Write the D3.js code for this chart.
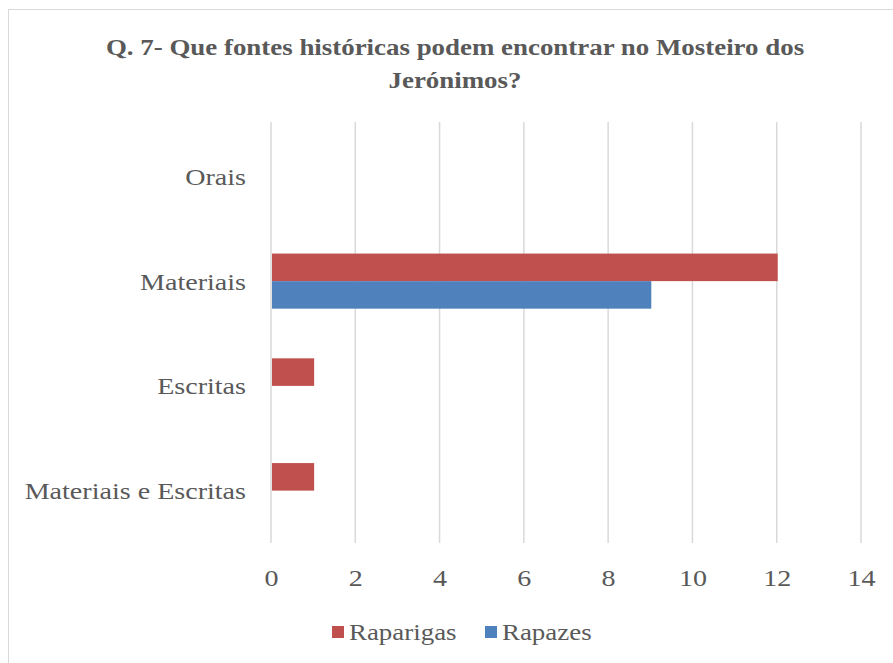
<!DOCTYPE html>
<html>
<head>
<meta charset="utf-8">
<script src="https://cdn.jsdelivr.net/npm/d3@7"></script>
<style>
  body { margin: 0; background: #fff; }
  svg { display: block; }
  text { font-family: "Liberation Serif", "Times New Roman", serif; fill: #595959; }
</style>
</head>
<body>
<svg width="893" height="663"></svg>
<script>
var categories = ["Orais", "Materiais", "Escritas", "Materiais e Escritas"];
var seriesNames = ["Raparigas", "Rapazes"];
var raparigas = [0, 12, 1, 1];
var rapazes = [0, 9, 0, 0];
var xTicks = [0, 2, 4, 6, 8, 10, 12, 14];
var colors = ["#C0504D", "#4F81BD"];
var titleLines = ["Q. 7- Que fontes históricas podem encontrar no Mosteiro dos", "Jerónimos?"];

var svg = d3.select("svg"),
    margin = {top: 124, right: 32, bottom: 120, left: 271},
    width = 861 - margin.left,
    height = 543 - margin.top,
    stretch = 1.17;

// the original picture is stretched sideways, so widen the glyphs the same way
function widen(sel) {
  sel.each(function() {
    var t = d3.select(this),
        tx = +t.attr("x") || 0,
        ty = +t.attr("y") || 0;
    t.attr("x", 0).attr("y", 0)
     .attr("transform", "translate(" + tx + "," + ty + ") scale(" + stretch + ",1)");
  });
}

svg.append("rect")
    .attr("x", 8.5).attr("y", 9.5)
    .attr("width", 900).attr("height", 680)
    .attr("fill", "#fff")
    .attr("stroke", "#d9d9d9");

svg.selectAll(".title")
  .data(titleLines)
  .enter().append("text")
    .attr("class", "title")
    .attr("x", 455)
    .attr("y", function(d, i) { return 55 + i * 33; })
    .attr("text-anchor", "middle")
    .style("font-size", "23px")
    .style("font-weight", "bold")
    .text(function(d) { return d; })
    .call(widen);

var g = svg.append("g").attr("transform", "translate(" + margin.left + "," + margin.top + ")");

var x = d3.scaleLinear().domain([0, 14]).range([0, width]);

var y = d3.scaleBand()
    .domain(categories)
    .range([0, height])
    .paddingInner(0.474)
    .paddingOuter(0.237);

var ySub = d3.scaleBand()
    .domain(seriesNames)
    .range([0, y.bandwidth()]);

// grid lines
g.selectAll(".grid")
  .data(xTicks)
  .enter().append("line")
    .attr("x1", function(d) { return x(d); })
    .attr("x2", function(d) { return x(d); })
    .attr("y1", -2)
    .attr("y2", height)
    .attr("stroke", "#d9d9d9")
    .attr("stroke-width", 1.5);

var table = categories.map(function(c, i) {
  return {cat: c, values: [raparigas[i], rapazes[i]]};
});

var groups = g.selectAll(".cat")
  .data(table)
  .enter().append("g")
    .attr("transform", function(d) { return "translate(0," + y(d.cat) + ")"; });

groups.selectAll("rect")
  .data(function(d) { return d.values.map(function(v, j) { return {name: seriesNames[j], value: v, j: j}; }); })
  .enter().append("rect")
    .attr("x", x(0) + 1)
    .attr("y", function(d) { return ySub(d.name); })
    .attr("width", function(d) { return d.value > 0 ? x(d.value) - x(0) : 0; })
    .attr("height", ySub.bandwidth())
    .attr("fill", function(d) { return colors[d.j]; });

// category labels
g.selectAll(".catlabel")
  .data(categories)
  .enter().append("text")
    .attr("x", -25)
    .attr("y", function(d) { return y(d) + y.bandwidth() / 2; })
    .attr("dy", "0.35em")
    .attr("text-anchor", "end")
    .style("font-size", "24px")
    .text(function(d) { return d; })
    .call(widen);

var xAxis = d3.axisBottom(x).tickValues(xTicks).tickSize(0).tickPadding(26);

var ax = g.append("g")
    .attr("transform", "translate(0," + height + ")")
    .call(xAxis);
ax.select(".domain").remove();
ax.selectAll("text")
    .style("font-size", "24px")
    .attr("fill", "#595959")
    .style("font-family", "Liberation Serif, serif")
    .call(widen);

// legend
var legend = svg.append("g").attr("transform", "translate(332,632)");
var lx = [0, 153];
seriesNames.forEach(function(s, i) {
  var item = legend.append("g").attr("transform", "translate(" + lx[i] + ",0)");
  item.append("rect")
      .attr("x", 0).attr("y", -6)
      .attr("width", 12).attr("height", 12)
      .attr("fill", colors[i]);
  item.append("text")
      .attr("x", 17).attr("y", 0)
      .attr("dy", "0.35em")
      .style("font-size", "23px")
      .text(s)
      .call(widen);
});
</script>
</body>
</html>
